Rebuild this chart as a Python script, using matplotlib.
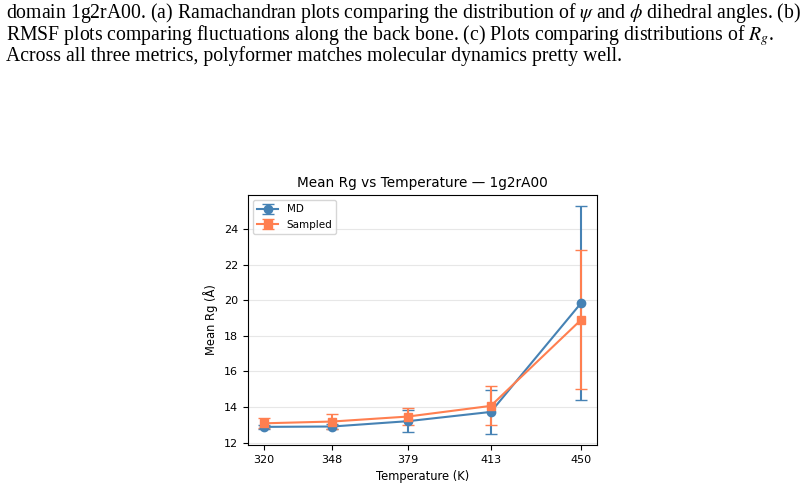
import matplotlib.pyplot as plt
import numpy as np

temps = [320, 348, 379, 413, 450]
md_mean = [12.88, 12.90, 13.20, 13.72, 19.84]
md_err = [0.12, 0.15, 0.60, 1.22, 5.43]
samp_mean = [13.08, 13.18, 13.46, 14.06, 18.90]
samp_err = [0.28, 0.40, 0.50, 1.10, 3.90]

caption = [
    r'domain 1g2rA00. (a) Ramachandran plots comparing the distribution of $\psi$ and $\phi$ dihedral angles. (b)',
    r'RMSF plots comparing fluctuations along the back bone. (c) Plots comparing distributions of $R_g$.',
    r'Across all three metrics, polyformer matches molecular dynamics pretty well.',
]

plt.rcParams['mathtext.fontset'] = 'stix'

fig = plt.figure(figsize=(8.08, 4.88), dpi=100)

# caption above the chart, one text block
fig.text(0.008, 1 - 1 / 488, '\n'.join(caption), family='Liberation Serif',
         fontsize=14.2, va='top', ha='left', linespacing=0.87)

ax = fig.add_axes([248 / 808, 1 - 445 / 488, 349 / 808, 250 / 488])

ax.errorbar(temps, md_mean, yerr=md_err, color='steelblue', marker='o',
            markersize=6, capsize=4, lw=1.5, label='MD')
ax.errorbar(temps, samp_mean, yerr=samp_err, color='coral', marker='s',
            markersize=6, capsize=4, lw=1.5, label='Sampled')

ax.set_xticks(temps)
ax.set_xticklabels([str(t) for t in temps])
ax.set_title('Mean Rg vs Temperature — 1g2rA00', fontsize=9.8)
ax.set_xlabel('Temperature (K)', fontsize=8.3)
ax.set_ylabel('Mean Rg (Å)', fontsize=8.3)
ax.tick_params(labelsize=8)
ax.grid(axis='y', alpha=0.3)
ax.legend(loc='upper left', fontsize=7.5)

plt.savefig('out.png', dpi=100)
